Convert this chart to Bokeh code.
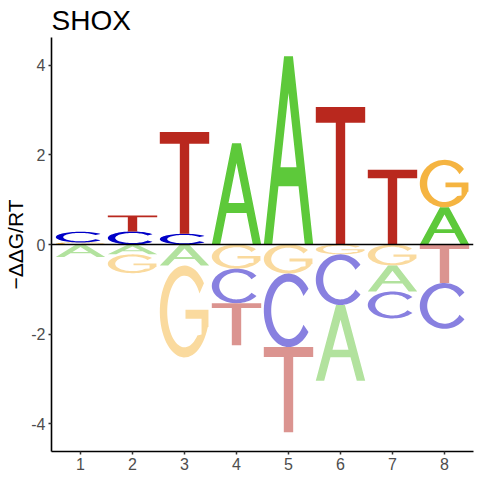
import numpy as np
from bokeh.plotting import figure
from bokeh.models import ColumnDataSource, FixedTicker, Span
from bokeh.embed import file_html
from bokeh.resources import INLINE

# ---------------- data ----------------
positions = [1, 2, 3, 4, 5, 6, 7, 8]
val_A = [-0.28, -0.22, -0.47, 2.26, 4.20, -1.69, -0.58, 0.83]
val_C = [0.24, 0.29, 0.24, -0.77, -1.64, -1.13, -0.60, -1.02]
val_G = [0.045, -0.42, -2.05, -0.54, -0.65, -0.22, -0.47, 1.06]
val_T = [0.0, 0.36, 2.27, -0.94, -1.90, 3.07, 1.67, -0.86]
x_ticks = [1, 2, 3, 4, 5, 6, 7, 8]
y_ticks = [-4, -2, 0, 2, 4]
title_text = "SHOX"
y_label = "\u2212\u0394\u0394G/RT"

col_pos = {"A": "#5DC93A", "C": "#0000C8", "G": "#F5B441", "T": "#B9281E"}
col_neg = {"A": "#B2E29E", "C": "#8880E0", "G": "#FADA9E", "T": "#DB9490"}

FONT = "Liberation Sans"
LETTER_W = 0.95


# ---------------- glyph outlines in a unit box ----------------
def arc(cx, cy, rx, ry, a0, a1, n=60):
    t = np.radians(np.linspace(a0, a1, n))
    return list(cx + rx * np.cos(t)), list(cy + ry * np.sin(t))


def glyph(letter):
    if letter == "T":
        xs = [0.405, 0.595, 0.595, 1.0, 1.0, 0.0, 0.0, 0.405]
        ys = [0.0, 0.0, 0.885, 0.885, 1.0, 1.0, 0.885, 0.885]
        return [[xs, ys]]
    if letter == "A":
        s = 0.41
        ox = [0.0, 0.5 - 0.5 * 0.18, 0.5 + 0.5 * 0.18, 1.0, 0.83, 0.83 - s * 0.31,
              0.17 + s * 0.31, 0.17]
        oy = [0.0, 1.0, 1.0, 0.0, 0.0, 0.31, 0.31, 0.0]
        hx = [0.17 + s * 0.41, 0.83 - s * 0.41, 0.5]
        hy = [0.41, 0.41, 0.66 / 0.82]
        return [[ox, oy], [hx, hy]]
    if letter == "C":
        ox, oy = arc(0.5, 0.5, 0.5, 0.5, 36, 324)
        ix, iy = arc(0.5, 0.5, 0.35, 0.39, 330, 30)
        return [[ox + ix, oy + iy]]
    if letter == "G":
        ox, oy = arc(0.5, 0.5, 0.5, 0.5, 38, 340)
        ix, iy = arc(0.5, 0.5, 0.35, 0.39, 318, 30)
        xs = ox + [0.985, 0.985, 0.52, 0.52, 0.845, 0.845] + ix
        ys = oy + [0.33, 0.52, 0.52, 0.42, 0.42, 0.25] + iy
        return [[xs, ys]]


# ---------------- build stacked letters ----------------
vals = {"A": val_A, "C": val_C, "G": val_G, "T": val_T}
src = {"xs": [], "ys": [], "color": []}
for i, pos in enumerate(positions):
    items = [(L, vals[L][i]) for L in "ACGT"]
    up = sorted([it for it in items if it[1] > 0], key=lambda it: it[1])
    dn = sorted([it for it in items if it[1] < 0], key=lambda it: -it[1])
    base = 0.0
    for L, v in up:
        bottom, top = base, base + v
        base = top
        parts = glyph(L)
        src["xs"].append([[list(pos - LETTER_W / 2 + np.array(px) * LETTER_W) for px, py in parts]])
        src["ys"].append([[list(bottom + np.array(py) * (top - bottom)) for px, py in parts]])
        src["color"].append(col_pos[L])
    base = 0.0
    for L, v in dn:
        top, bottom = base, base + v
        base = bottom
        parts = glyph(L)
        src["xs"].append([[list(pos - LETTER_W / 2 + np.array(px) * LETTER_W) for px, py in parts]])
        src["ys"].append([[list(bottom + np.array(py) * (top - bottom)) for px, py in parts]])
        src["color"].append(col_neg[L])

source = ColumnDataSource(src)

W, H = 480, 480
p = figure(width=W, height=H, output_backend="svg", toolbar_location=None,
           x_range=(0.442, 8.558), y_range=(-4.62, 4.62), title=title_text,
           min_border_left=51, min_border_right=7, min_border_top=0, min_border_bottom=29)
p.multi_polygons(xs="xs", ys="ys", fill_color="color", line_color=None, source=source)

p.add_layout(Span(location=0, dimension="width", line_color="black", line_width=1.5, level="overlay"))

p.title.text_font = FONT
p.title.text_font_size = "28px"
p.title.text_font_style = "normal"
p.title.text_color = "black"
p.title.align = "left"
p.title.offset = 0
p.title.standoff = 4

p.xgrid.visible = False
p.ygrid.visible = False
p.outline_line_color = None
p.background_fill_color = "white"
p.border_fill_color = "white"

for ax in (p.xaxis[0], p.yaxis[0]):
    ax.axis_line_color = "black"
    ax.axis_line_width = 1.6
    ax.major_tick_line_color = "#333333"
    ax.major_tick_line_width = 1.5
    ax.major_tick_out = 3
    ax.major_tick_in = 0
    ax.minor_tick_line_color = None
    ax.major_label_text_color = "#4D4D4D"
    ax.major_label_text_font = FONT
    ax.major_label_text_font_size = "16px"
    ax.major_label_standoff = 3

p.yaxis.axis_label = y_label
p.yaxis.axis_label_text_font = FONT
p.yaxis.axis_label_text_font_size = "21px"
p.yaxis.axis_label_text_font_style = "normal"
p.yaxis.axis_label_text_color = "black"
p.yaxis.axis_label_standoff = 1

p.xaxis.ticker = FixedTicker(ticks=x_ticks)
p.yaxis.ticker = FixedTicker(ticks=y_ticks)
p.yaxis.major_label_overrides = {t: str(t).replace("\u2212", "-") for t in y_ticks}
p.xaxis.major_label_overrides = {t: str(t) for t in x_ticks}

open("out.html", "w").write(file_html(p, INLINE))
